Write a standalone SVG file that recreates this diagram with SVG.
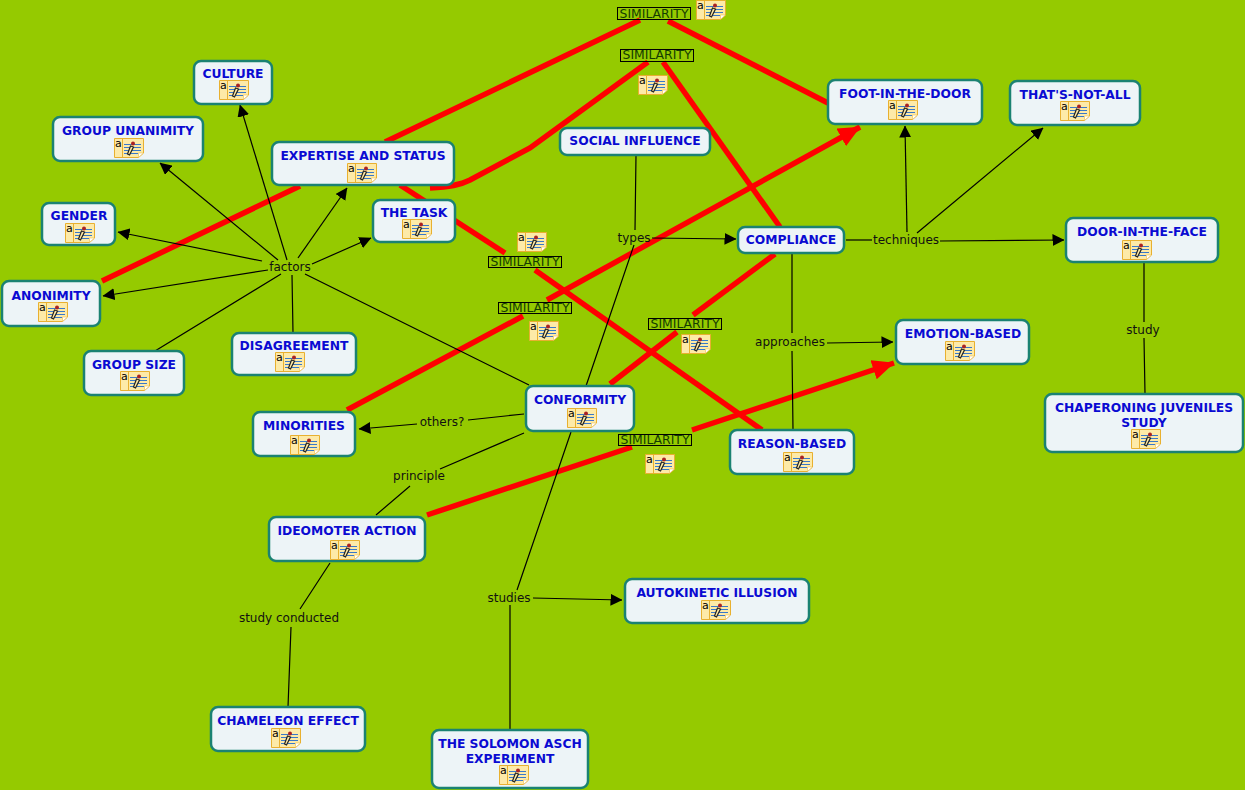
<svg xmlns="http://www.w3.org/2000/svg" width="1245" height="790" viewBox="0 0 1245 790">
<style>
.n{fill:#edf4f7;stroke:#1b8272;stroke-width:2.5}
.t{font:bold 12.300px "DejaVu Sans",Verdana,sans-serif;fill:#0a0ad2;text-anchor:middle}
.l{font:12px "DejaVu Sans",Verdana,sans-serif;fill:#111;text-anchor:middle}
.c{stroke:#000;stroke-width:1.200;fill:none}
.a{marker-end:url(#ah)}
.r{stroke:#f00;stroke-width:5.500;fill:none}
.ra{marker-end:url(#rh)}
.s{fill:none;stroke:#000;stroke-width:1}
.sl{font:12.400px "DejaVu Sans",Verdana,sans-serif;fill:#143c00;text-anchor:middle}
</style>
<defs>
<marker id="ah" markerUnits="userSpaceOnUse" markerWidth="12" markerHeight="12" refX="11.500" refY="6" orient="auto"><path d="M0 0L12 6L0 12Z" fill="#000"/></marker>
<marker id="rh" markerUnits="userSpaceOnUse" markerWidth="22" markerHeight="20" refX="21.500" refY="10" orient="auto"><path d="M0 0L22 10L0 20Z" fill="#f00"/></marker>
<g id="icon">
<path d="M.5.5H29.5V15L24.500 19.500H.5Z" fill="#fdeaa8" stroke="#e8b030"/>
<path d="M8.500 1V19" stroke="#e8b030"/>
<path d="M24.500 19.500V15H29.500Z" fill="#fff" stroke="#e8b030" stroke-width=".5"/>
<path d="M10 6.500H27M10 9.500H27M10 12.500H27M10 15.500H24" stroke="#3a78c8"/>
<path d="M13.500 16L16.500 8L19.500 9L15.500 17Z" fill="#fdeaa8" stroke="#222" stroke-width="1.200"/>
<circle cx="19" cy="5.500" r="2" fill="#aa2222"/>
<text x="1" y="9" font-family="'DejaVu Sans',sans-serif" font-size="11" fill="#000">a</text>
</g>
</defs>
<rect width="1245" height="790" fill="#95ca00"/>
<g id="connectors">
<path class="r" d="M102 281L300 186M385 142L640 20"/>
<path class="r" d="M668 21L828 103"/>
<path class="r" d="M430 188C450 187 460 185 470 180L530 148L648 62"/>
<path class="r" d="M663 62L780 227"/>
<path class="r" d="M400 185L505 253"/>
<path class="r" d="M535 270L762 430"/>
<path class="r" d="M347 410L523 316"/>
<path class="r ra" d="M547 300L860 127"/>
<path class="r" d="M610 384L677 332"/>
<path class="r" d="M693 315L775 254"/>
<path class="r" d="M427 515L632 447"/>
<path class="r ra" d="M692 430L894 363"/>
<path class="c a" d="M287 260L240 105"/>
<path class="c a" d="M278 260L160 163"/>
<path class="c a" d="M262 261L118 232"/>
<path class="c a" d="M268 270L103 296"/>
<path class="c a" d="M298 258L347 188"/>
<path class="c a" d="M312 264L371 238"/>
<path class="c" d="M155 351L281 274M293 333L292 275M529 385L305 274"/>
<path class="c" d="M636 155L635 230M634 245L586 386"/>
<path class="c a" d="M652 238L736 239"/>
<path class="c" d="M846 240L872 240"/>
<path class="c a" d="M940 241L1064 240"/>
<path class="c a" d="M907 232L905 126"/>
<path class="c a" d="M917 233L1043 128"/>
<path class="c" d="M792 254L792 333M792 351L793 430"/>
<path class="c a" d="M827 343L893 342"/>
<path class="c" d="M1144 263L1144 322M1144 338L1145 394"/>
<path class="c" d="M524 414L468 420"/>
<path class="c a" d="M417 424L359 429"/>
<path class="c" d="M524 433L440 469M410 486L376 515"/>
<path class="c" d="M571 432L517 590M510 605L510 730"/>
<path class="c a" d="M533 598L622 600"/>
<path class="c" d="M330 563L300 609M291 627L288 707"/>
</g>
<g id="labels">
<text class="l" x="290" y="271">factors</text>
<text class="l" x="634" y="242">types</text>
<text class="l" x="906" y="244">techniques</text>
<text class="l" x="790" y="346">approaches</text>
<text class="l" x="1143" y="334">study</text>
<text class="l" x="442" y="426">others?</text>
<text class="l" x="419" y="480">principle</text>
<text class="l" x="509" y="602">studies</text>
<text class="l" x="289" y="622">study conducted</text>
</g>
<g id="similarity-1"><rect class="s" x="617.500" y="7.500" width="73" height="12"/><text class="sl" x="654" y="18">SIMILARITY</text><use href="#icon" x="696" y="0"/></g>
<g id="similarity-2"><rect class="s" x="620.500" y="49.500" width="73" height="12"/><text class="sl" x="657" y="59">SIMILARITY</text><use href="#icon" x="638" y="75"/></g>
<g id="similarity-3"><rect class="s" x="488.500" y="256.500" width="73" height="11"/><text class="sl" x="525" y="266">SIMILARITY</text><use href="#icon" x="517" y="232"/></g>
<g id="similarity-4"><rect class="s" x="498.500" y="302.500" width="73" height="11"/><text class="sl" x="535" y="312">SIMILARITY</text><use href="#icon" x="529" y="321"/></g>
<g id="similarity-5"><rect class="s" x="648.500" y="318.500" width="73" height="11"/><text class="sl" x="685" y="328">SIMILARITY</text><use href="#icon" x="681" y="334"/></g>
<g id="similarity-6"><rect class="s" x="618.500" y="434.500" width="73" height="11"/><text class="sl" x="655" y="444">SIMILARITY</text><use href="#icon" x="645" y="454"/></g>
<g id="culture"><rect class="n" x="194" y="61" width="78" height="43" rx="7"/><text class="t" x="233" y="78">CULTURE</text><use href="#icon" x="219" y="80"/></g>
<g id="group-unanimity"><rect class="n" x="53" y="117" width="150" height="44" rx="7"/><text class="t" x="128" y="135">GROUP UNANIMITY</text><use href="#icon" x="114" y="138"/></g>
<g id="gender"><rect class="n" x="42" y="203" width="73" height="42" rx="7"/><text class="t" x="79" y="220">GENDER</text><use href="#icon" x="65" y="223"/></g>
<g id="anonimity"><rect class="n" x="2" y="281" width="98" height="45" rx="7"/><text class="t" x="51" y="300">ANONIMITY</text><use href="#icon" x="38" y="302"/></g>
<g id="group-size"><rect class="n" x="84" y="351" width="100" height="44" rx="7"/><text class="t" x="134" y="369">GROUP SIZE</text><use href="#icon" x="120" y="371"/></g>
<g id="disagreement"><rect class="n" x="232" y="333" width="124" height="42" rx="7"/><text class="t" x="294" y="350">DISAGREEMENT</text><use href="#icon" x="275" y="352"/></g>
<g id="expertise"><rect class="n" x="272" y="142" width="182" height="43" rx="7"/><text class="t" x="363" y="160">EXPERTISE AND STATUS</text><use href="#icon" x="347" y="163"/></g>
<g id="the-task"><rect class="n" x="373" y="200" width="82" height="42" rx="7"/><text class="t" x="414" y="217">THE TASK</text><use href="#icon" x="402" y="219"/></g>
<g id="social-influence"><rect class="n" x="560" y="128" width="150" height="27" rx="7"/><text class="t" x="635" y="145">SOCIAL INFLUENCE</text></g>
<g id="foot-in-the-door"><rect class="n" x="828" y="80" width="154" height="44" rx="7"/><text class="t" x="905" y="98">FOOT-IN-THE-DOOR</text><use href="#icon" x="888" y="100"/></g>
<g id="thats-not-all"><rect class="n" x="1010" y="81" width="130" height="44" rx="7"/><text class="t" x="1075" y="99">THAT'S-NOT-ALL</text><use href="#icon" x="1060" y="101"/></g>
<g id="compliance"><rect class="n" x="738" y="227" width="106" height="26" rx="7"/><text class="t" x="791" y="244">COMPLIANCE</text></g>
<g id="door-in-the-face"><rect class="n" x="1066" y="218" width="152" height="44" rx="7"/><text class="t" x="1142" y="236">DOOR-IN-THE-FACE</text><use href="#icon" x="1122" y="240"/></g>
<g id="emotion-based"><rect class="n" x="896" y="320" width="133" height="44" rx="7"/><text class="t" x="963" y="338">EMOTION-BASED</text><use href="#icon" x="945" y="341"/></g>
<g id="chaperoning"><rect class="n" x="1045" y="394" width="198" height="58" rx="7"/><text class="t" x="1144" y="412">CHAPERONING JUVENILES</text><text class="t" x="1144" y="427">STUDY</text><use href="#icon" x="1131" y="429"/></g>
<g id="conformity"><rect class="n" x="526" y="386" width="108" height="45" rx="7"/><text class="t" x="580" y="404">CONFORMITY</text><use href="#icon" x="567" y="408"/></g>
<g id="minorities"><rect class="n" x="253" y="412" width="102" height="44" rx="7"/><text class="t" x="304" y="430">MINORITIES</text><use href="#icon" x="290" y="435"/></g>
<g id="reason-based"><rect class="n" x="730" y="430" width="124" height="44" rx="7"/><text class="t" x="792" y="448">REASON-BASED</text><use href="#icon" x="783" y="452"/></g>
<g id="ideomotor-action"><rect class="n" x="269" y="517" width="156" height="44" rx="7"/><text class="t" x="347" y="535">IDEOMOTER ACTION</text><use href="#icon" x="330" y="540"/></g>
<g id="autokinetic-illusion"><rect class="n" x="625" y="579" width="184" height="44" rx="7"/><text class="t" x="717" y="597">AUTOKINETIC ILLUSION</text><use href="#icon" x="701" y="600"/></g>
<g id="chameleon-effect"><rect class="n" x="211" y="707" width="154" height="44" rx="7"/><text class="t" x="288" y="725">CHAMELEON EFFECT</text><use href="#icon" x="271" y="728"/></g>
<g id="solomon-asch"><rect class="n" x="432" y="730" width="156" height="58" rx="7"/><text class="t" x="510" y="748">THE SOLOMON ASCH</text><text class="t" x="510" y="763">EXPERIMENT</text><use href="#icon" x="499" y="765"/></g>
</svg>
